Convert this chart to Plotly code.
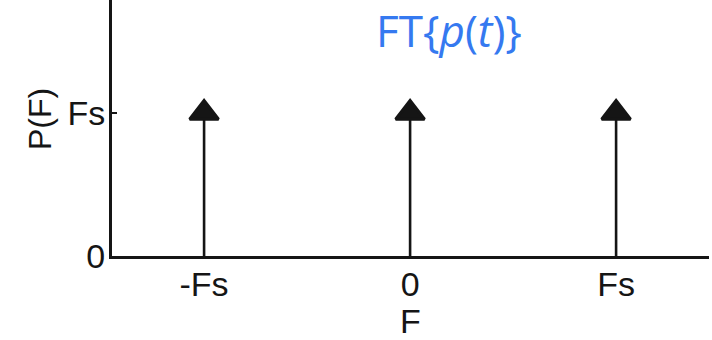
import plotly.graph_objects as go

# Data (frequency in multiples of Fs, impulse weights in units of Fs)
freq = [-1, 0, 1]
weight = [1, 1, 1]
x_tick_vals = [-1, 0, 1]
x_tick_text = ["-Fs", "0", "Fs"]
y_tick_vals = [0, 1]
y_tick_text = ["0", "Fs"]
title_text = "FT{<i>p</i>(<i>t</i>)}"
x_title = "F"
y_title = "P(F)"

INK = "#151515"
FONT = "Liberation Sans, Arial, sans-serif"

# stems
sx, sy = [], []
for f, w in zip(freq, weight):
    sx += [f, f, None]
    sy += [0, w, None]

fig = go.Figure()
fig.add_trace(go.Scatter(x=sx, y=sy, mode="lines",
                         line=dict(color=INK, width=2.6),
                         hoverinfo="skip", showlegend=False))
fig.add_trace(go.Scatter(x=freq, y=weight, mode="markers",
                         marker=dict(symbol="triangle-up", size=25, color=INK,
                                     line=dict(color=INK, width=3)),
                         showlegend=False))

fig.add_annotation(text=y_title, textangle=-90, xref="paper", yref="paper",
                   x=(40 - 112) / 597, y=(256 - 119) / 256,
                   xanchor="center", yanchor="middle", showarrow=False,
                   font=dict(family=FONT, size=32, color=INK))

fig.add_annotation(text=title_text, xref="paper", yref="paper",
                   x=(449 - 112) / 597, y=(256 - 30) / 256,
                   xanchor="center", yanchor="middle", showarrow=False,
                   font=dict(family="Open Sans, sans-serif", size=44, color="#3579f0"))

fig.update_layout(
    width=712, height=340,
    margin=dict(l=112, r=3, t=0, b=84),
    paper_bgcolor="white", plot_bgcolor="white",
    font=dict(family=FONT, color=INK, size=34),
    xaxis=dict(range=[-1.447, 1.451], showgrid=False, zeroline=False,
               showline=True, linecolor=INK, linewidth=3,
               tickvals=x_tick_vals, ticktext=x_tick_text, ticks="",
               tickfont=dict(size=34), ticklabelstandoff=-4,
               title=dict(text=x_title, font=dict(size=34), standoff=6)),
    yaxis=dict(range=[0, 1.790], showgrid=False, zeroline=False,
               showline=True, linecolor=INK, linewidth=3,
               tickvals=y_tick_vals, ticktext=y_tick_text,
               ticks="inside", ticklen=5, tickwidth=2, tickcolor=INK,
               tickfont=dict(size=34), ticklabelstandoff=-3),
)

fig.write_html("out.html")
